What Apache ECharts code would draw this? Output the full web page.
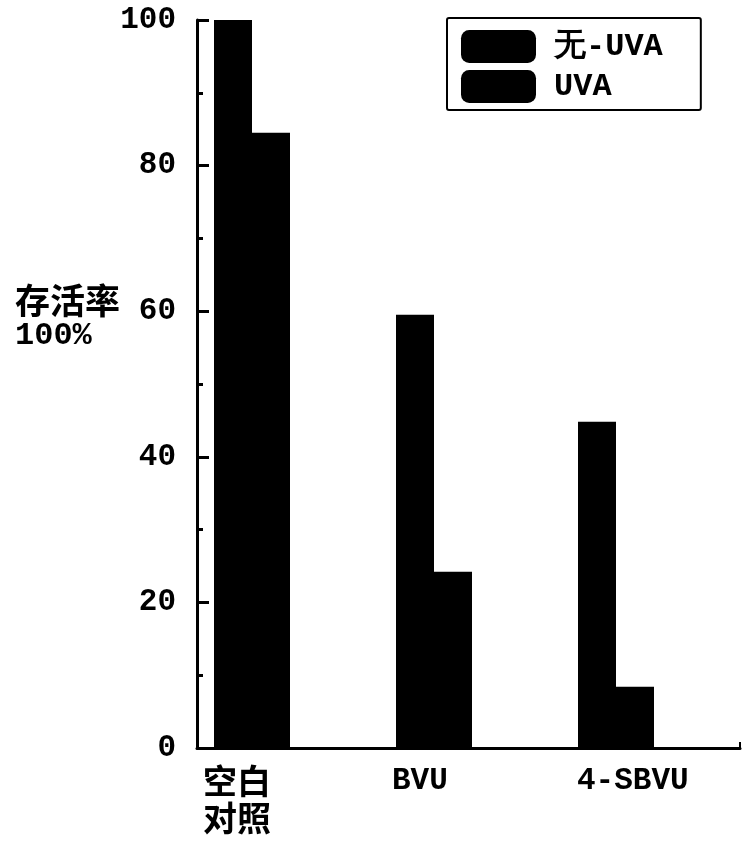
<!DOCTYPE html>
<html>
<head>
<meta charset="utf-8">
<script src="https://cdn.jsdelivr.net/npm/echarts@6/dist/echarts.min.js"></script>
<style>html,body{margin:0;padding:0;background:#fff}#c{width:755px;height:849px}</style>
</head>
<body>
<div id="c"></div>
<script>
const categories = ['空白\n对照', 'BVU', '4-SBVU'];
const seriesNames = ['无-UVA', 'UVA'];
const noUVA = [100, 59.5, 44.8];
const withUVA = [84.5, 24.2, 8.4];
const yTitleLines = ['存活率', '100%'];

const chart = echarts.init(document.getElementById('c'));
const mono = 'Liberation Mono';
const cjk = 'Noto Sans CJK SC';
const labelWidths = [98, 84, 78];

chart.setOption({
  backgroundColor: '#fff',
  animation: false,
  title: {
    text: '{c|' + yTitleLines[0] + '}\n{m|' + yTitleLines[1] + '}', left: 10, top: 278,
    textStyle: {
      rich: {
        c: { fontSize: 35, fontWeight: 'bold', fontFamily: cjk, lineHeight: 36, color: '#000' },
        m: { fontSize: 32, fontWeight: 'bold', fontFamily: mono, lineHeight: 34, color: '#000' }
      }
    }
  },
  legend: {
    orient: 'vertical', left: 447, top: 18,
    padding: [12, 38, 7, 14],
    itemWidth: 75, itemHeight: 33, itemGap: 7,
    borderColor: '#000', borderWidth: 2, borderRadius: 2,
    icon: 'roundRect',
    data: seriesNames,
    textStyle: { fontSize: 32, fontWeight: 'bold', fontFamily: mono, color: '#000', padding: [0, 0, 0, 13] }
  },
  grid: [
    { left: 161, width: 546, top: 20, height: 728 },
    { left: 197, width: 543, top: 20, height: 728 }
  ],
  xAxis: [
    {
      type: 'category', gridIndex: 0, data: categories,
      axisLine: { show: false }, axisTick: { show: false },
      axisLabel: {
        margin: 15, interval: 0,
        formatter: (v, i) => v.split('\n').map(s => '{a' + i + '|' + s + '}').join('\n'),
        rich: {
          a0: { width: labelWidths[0], align: 'left', fontSize: 34, fontWeight: 'bold', fontFamily: cjk, lineHeight: 37, color: '#000' },
          a1: { width: labelWidths[1], align: 'left', fontSize: 31, fontWeight: 'bold', fontFamily: mono, lineHeight: 37, color: '#000' },
          a2: { width: labelWidths[2], align: 'left', fontSize: 31, fontWeight: 'bold', fontFamily: mono, lineHeight: 37, color: '#000' }
        }
      }
    },
    {
      type: 'value', gridIndex: 1, min: 0, max: 1, interval: 1,
      axisLine: { show: true, lineStyle: { color: '#000', width: 3 } },
      axisTick: { show: true, inside: true, length: 6, lineStyle: { color: '#000', width: 2 } },
      axisLabel: { show: false }, splitLine: { show: false }
    }
  ],
  yAxis: [
    { type: 'value', gridIndex: 0, min: 0, max: 100, show: false },
    {
      type: 'value', gridIndex: 1, min: 0, max: 100, interval: 20,
      axisLine: { show: true, lineStyle: { color: '#000', width: 3 } },
      axisTick: { show: true, inside: true, length: 12, lineStyle: { color: '#000', width: 3 } },
      minorTick: { show: true, splitNumber: 2, length: 6, lineStyle: { color: '#000', width: 3 } },
      splitLine: { show: false },
      axisLabel: { margin: 21, fontSize: 31, fontWeight: 'bold', fontFamily: mono, color: '#000' }
    }
  ],
  series: [
    { name: seriesNames[0], type: 'bar', xAxisIndex: 0, yAxisIndex: 0, data: noUVA, barWidth: 38, barGap: '0%', itemStyle: { color: '#000' } },
    { name: seriesNames[1], type: 'bar', xAxisIndex: 0, yAxisIndex: 0, data: withUVA, barWidth: 38, barGap: '0%', itemStyle: { color: '#000' } }
  ]
});
</script>
</body>
</html>
